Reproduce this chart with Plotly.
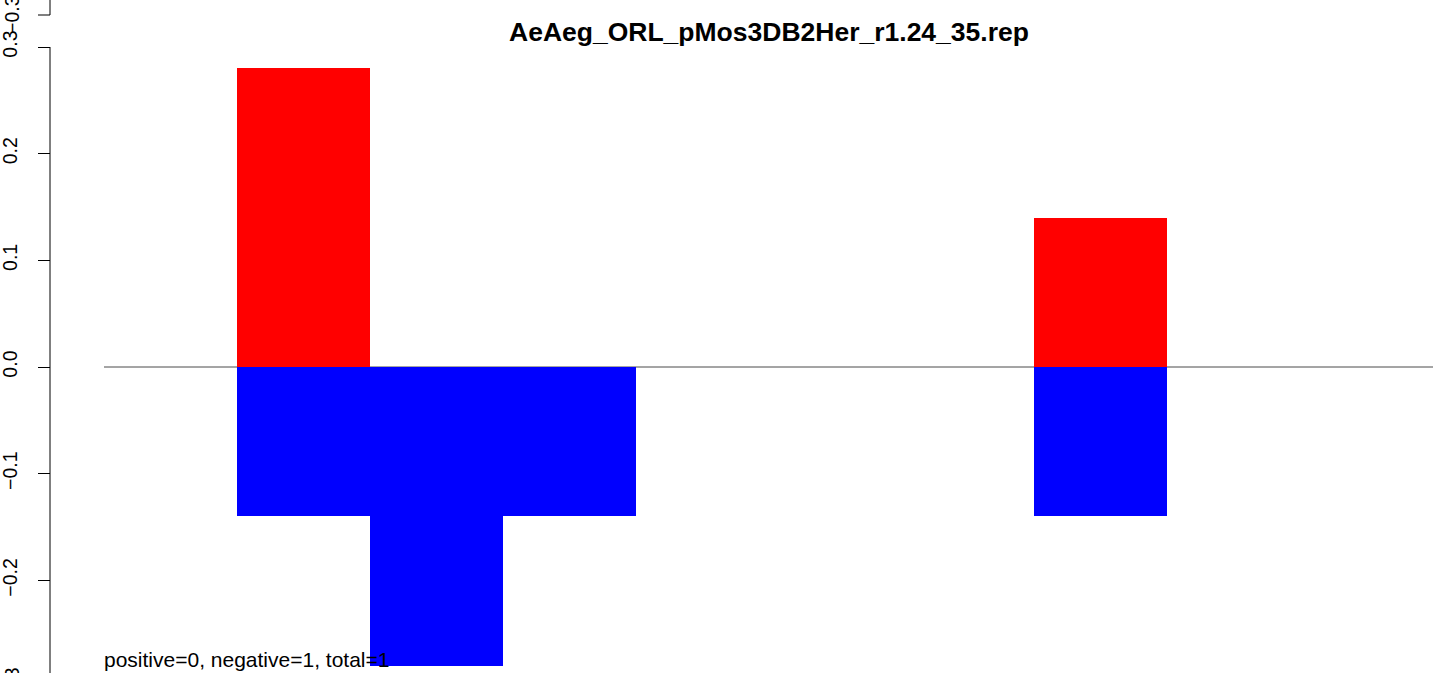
import plotly.graph_objects as go

# ---- data ----
slots = list(range(10))
positive = [0, 0.28, 0, 0, 0, 0, 0, 0.14, 0, 0]
negative = [0, -0.14, -0.28, -0.14, 0, 0, 0, -0.14, 0, 0]
tick_vals = [-0.3, -0.2, -0.1, 0.0, 0.1, 0.2, 0.3]
tick_text = ["\u22120.3", "\u22120.2", "\u22120.1", "0.0", "0.1", "0.2", "0.3"]
title_text = "AeAeg_ORL_pMos3DB2Her_r1.24_35.rep"
footer_text = "positive=0, negative=1, total=1"

W, H = 1433, 673
px_per_unit = 320 / 0.3
y_top = 367 / px_per_unit
y_bot = -(H - 367) / px_per_unit
x_dom0 = 104 / W
axis_x = 50 / W
FONT = "Liberation Sans, Arial, sans-serif"


def to_paper_y(v):
    return (v - y_bot) / (y_top - y_bot)


fig = go.Figure()
fig.add_trace(go.Bar(x=slots, y=positive, marker=dict(color="#FF0000", line=dict(width=0)),
                     width=1, showlegend=False, hoverinfo="skip"))
fig.add_trace(go.Bar(x=slots, y=negative, marker=dict(color="#0000FF", line=dict(width=0)),
                     width=1, showlegend=False, hoverinfo="skip"))

# upper (previous plot) tick position
upper_tick = (367 - 15) / px_per_unit

shapes = [
    dict(type="line", xref="paper", yref="y", x0=x_dom0, x1=1, y0=0, y1=0,
         line=dict(color="#4a4a4a", width=1), layer="below"),
    dict(type="line", xref="paper", yref="y", x0=axis_x, x1=axis_x, y0=-0.3, y1=0.3,
         line=dict(color="black", width=1)),
    dict(type="line", xref="paper", yref="y", x0=axis_x, x1=axis_x, y0=upper_tick, y1=y_top + 0.01,
         line=dict(color="black", width=1)),
    dict(type="line", xref="paper", yref="y", x0=38 / W, x1=axis_x, y0=upper_tick, y1=upper_tick,
         line=dict(color="black", width=1)),
]

annotations = [
    dict(text="<b>" + title_text + "</b>", xref="paper", yref="paper",
         x=(x_dom0 + 1) / 2, y=1 - 32 / H, xanchor="center", yanchor="middle",
         showarrow=False, font=dict(family=FONT, size=26.5, color="black")),
    dict(text=footer_text, xref="paper", yref="paper", x=x_dom0 - 2 / W, y=1 - 659 / H,
         xanchor="left", yanchor="middle", showarrow=False,
         font=dict(family=FONT, size=21, color="black")),
    dict(text="\u22120.3", xref="paper", yref="paper", x=12 / W, y=to_paper_y(upper_tick),
         xanchor="center", yanchor="middle", textangle=-90, showarrow=False,
         font=dict(family=FONT, size=19.5, color="black")),
    dict(text="\u22120.3", xref="paper", yref="paper", x=12 / W, y=to_paper_y(-0.3),
         xanchor="center", yanchor="middle", textangle=-90, showarrow=False,
         font=dict(family=FONT, size=19.5, color="black")),
]

fig.update_layout(
    width=W, height=H,
    margin=dict(l=0, r=0, t=0, b=0),
    paper_bgcolor="white", plot_bgcolor="white",
    barmode="relative", bargap=0,
    xaxis=dict(domain=[x_dom0, 1], range=[-0.5, 9.5], visible=False),
    yaxis=dict(range=[y_bot, y_top], anchor="free", position=axis_x,
               tickvals=tick_vals, ticktext=tick_text, tickangle=-90,
               ticks="outside", ticklen=12, tickcolor="black", tickwidth=1,
               ticklabelstandoff=13,
               showline=False, showgrid=False, zeroline=False,
               tickfont=dict(family=FONT, size=19.5, color="black")),
    shapes=shapes, annotations=annotations,
)

fig.write_html("out.html", config={"displayModeBar": False},
               post_script="document.body.style.margin='0';document.body.style.overflow='hidden';")
